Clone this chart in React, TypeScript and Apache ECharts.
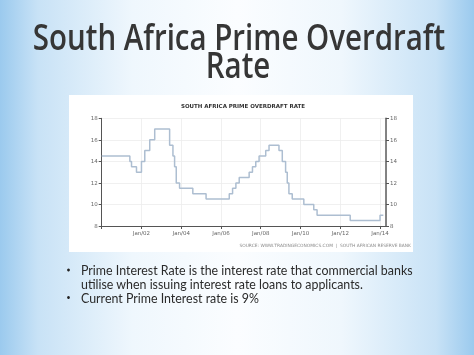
import React, { useEffect, useRef } from "react";
import * as echarts from "echarts";

// Prime overdraft rate change points (month the new rate took effect) and rates (%)
const changeDates = [
  "2000-01", "2001-06", "2001-07", "2001-10", "2002-01", "2002-03", "2002-06", "2002-09",
  "2003-06", "2003-08", "2003-09", "2003-10", "2003-12", "2004-08", "2005-04",
  "2006-06", "2006-08", "2006-10", "2006-12", "2007-06", "2007-08", "2007-10", "2007-12",
  "2008-04", "2008-06", "2008-12", "2009-02", "2009-04", "2009-05", "2009-06", "2009-08",
  "2010-03", "2010-09", "2010-11", "2012-07", "2014-01", "2014-03",
];
const rates = [
  14.5, 14.0, 13.5, 13.0, 14.0, 15.0, 16.0, 17.0,
  15.5, 14.5, 13.5, 12.0, 11.5, 11.0, 10.5,
  11.0, 11.5, 12.0, 12.5, 13.0, 13.5, 14.0, 14.5,
  15.0, 15.5, 15.0, 14.0, 13.0, 12.0, 11.0, 10.5,
  10.0, 9.5, 9.0, 8.5, 9.0, 9.0,
];
const yTicks = [8, 10, 12, 14, 16, 18];
const xTickYears = [2002, 2004, 2006, 2008, 2010, 2012, 2014];

const titleLines = ["South Africa Prime Overdraft", "Rate"];
const chartTitle = "SOUTH AFRICA PRIME OVERDRAFT RATE";
const sourceText = "SOURCE: WWW.TRADINGECONOMICS.COM  |  SOUTH AFRICAN RESERVE BANK";
const bullets = [
  ["Prime Interest Rate is the interest rate that commercial banks", "utilise when issuing interest rate loans to applicants."],
  ["Current Prime Interest rate is 9%"],
];

function toYear(s: string) {
  const [y, m] = s.split("-").map(Number);
  return y + (m - 1) / 12;
}

export default function App() {
  const ref = useRef<HTMLDivElement>(null);
  useEffect(() => {
    document.body.style.margin = "0";
    const chart = echarts.init(ref.current!, undefined, { renderer: "svg" });
    const data = changeDates.map((d, i) => [toYear(d), rates[i]]);
    const yLabel = { fontSize: 5.5, color: "#666", fontFamily: "DejaVu Sans" };
    const titleFont = "600 37px 'Open Sans'";
    const titleScale = 0.797;
    const titleDescent = 7;
    const baselines = [47, 75];
    const centers = [239, 238];

    const graphics: any[] = [
      {
        type: "rect", z: -20, silent: true,
        shape: { x: 0, y: 0, width: 474, height: 355 },
        style: {
          fill: new echarts.graphic.LinearGradient(0, 0, 1, 0, [
            { offset: 0, color: "#9bcaee" },
            { offset: 0.08, color: "#c8e2f6" },
            { offset: 0.28, color: "#eff7fd" },
            { offset: 0.5, color: "#fbfdff" },
            { offset: 0.72, color: "#eff7fd" },
            { offset: 0.92, color: "#c8e2f6" },
            { offset: 1, color: "#9bcaee" },
          ]),
        },
      },
      {
        type: "rect", z: -10, silent: true,
        shape: { x: 69, y: 95, width: 344, height: 157 },
        style: { fill: "#ffffff" },
      },
    ];
    titleLines.forEach((t, i) => {
      graphics.push({
        type: "text", x: centers[i], y: baselines[i] + titleDescent, scaleX: titleScale, z: 50,
        style: { text: t, font: titleFont, fill: "#363636", textAlign: "center", textVerticalAlign: "bottom" },
      });
    });
    graphics.push(
      {
        type: "text", x: 243, y: 105.5, z: 50,
        style: { text: chartTitle, font: "bold 5.5px 'DejaVu Sans'", fill: "#333", textAlign: "center", textVerticalAlign: "middle" },
      },
      {
        type: "text", x: 411, y: 245, z: 50,
        style: { text: sourceText, font: "4.4px 'DejaVu Sans'", fill: "#8a8a8a", textAlign: "right", textVerticalAlign: "middle" },
      }
    );
    let ly = 270;
    bullets.forEach((b) => {
      graphics.push({ type: "circle", z: 50, shape: { cx: 68.5, cy: ly, r: 1.4 }, style: { fill: "#222" } });
      b.forEach((line) => {
        graphics.push({
          type: "text", x: 81, y: ly, scaleX: 0.955, z: 50,
          style: { text: line, font: "13px Lato", fill: "#2a2a2a", textAlign: "left", textVerticalAlign: "middle" },
        });
        ly += 14;
      });
      ly -= 0.5;
    });

    chart.setOption({
      animation: false,
      graphic: graphics,
      grid: { left: 101.7, right: 88, top: 118.3, bottom: 129 },
      xAxis: {
        type: "value", min: 2000, max: 2014.3, interval: 2,
        axisLine: { show: true, onZero: false, lineStyle: { color: "#555", width: 1 } },
        axisTick: { show: true, length: 3, lineStyle: { color: "#555" } },
        axisLabel: {
          fontSize: 5.5, color: "#666", fontFamily: "DejaVu Sans", margin: 4,
          formatter: (v: number) => (xTickYears.includes(Math.round(v)) ? "Jan/" + String(Math.round(v) % 100).padStart(2, "0") : ""),
        },
        splitLine: { show: true, lineStyle: { color: "#ececec", width: 0.8 } },
      },
      yAxis: [
        {
          type: "value", min: yTicks[0], max: yTicks[yTicks.length - 1], interval: 2, position: "left",
          axisLine: { show: true, lineStyle: { color: "#555", width: 1 } },
          axisTick: { show: true, length: 3, lineStyle: { color: "#555" } },
          axisLabel: { ...yLabel, margin: 4 },
          splitLine: { show: true, lineStyle: { color: "#ececec", width: 0.8 } },
        },
        {
          type: "value", min: yTicks[0], max: yTicks[yTicks.length - 1], interval: 2, position: "right",
          axisLine: { show: true, lineStyle: { color: "#666", width: 1.6 } },
          axisTick: { show: true, length: 3, lineStyle: { color: "#555" } },
          axisLabel: { ...yLabel, margin: 4 },
          splitLine: { show: false },
        },
      ],
      series: [
        {
          type: "line", data, step: "end", showSymbol: false, symbol: "none",
          lineStyle: { color: "#adbed1", width: 1.5 },
        },
      ],
    });
    return () => chart.dispose();
  }, []);
  return <div ref={ref} style={{ position: "fixed", left: 0, top: 0, width: 474, height: 355 }} />;
}
